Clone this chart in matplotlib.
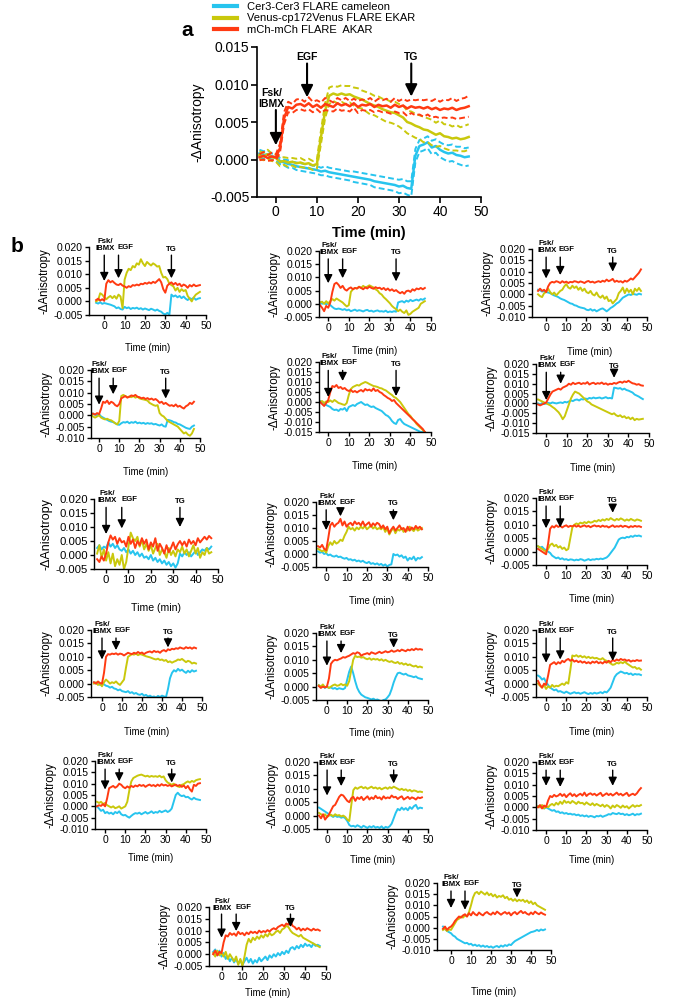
import numpy as np
import matplotlib
matplotlib.use("Agg")
import matplotlib.pyplot as plt
from matplotlib.lines import Line2D

plt.rcParams["font.family"] = ["Liberation Sans", "DejaVu Sans"]
plt.rcParams["axes.unicode_minus"] = False

CAM = "#27C4EE"
EKAR = "#C9C80C"
AKAR = "#FF3A12"
labels = ["Cer3-Cer3 FLARE cameleon", "Venus-cp172Venus FLARE EKAR", "mCh-mCh FLARE  AKAR"]

# sample times (min); all anisotropy values below are in units of 1e-3
time_min = list(range(-4, 48))

# ---- panel a: mean and sem
a_cam = [0.8, 0.6, 0.7, 0.4, 0.3, -0.2, -0.4, -0.6, -0.7, -0.9,
         -1.0, -1.1, -1.2, -1.3, -1.4, -1.6, -1.5, -1.7, -1.8, -1.9,
         -2.0, -2.1, -2.2, -2.3, -2.4, -2.5, -2.6, -2.7, -2.9, -3.0,
         -3.1, -3.2, -3.3, -3.4, -3.6, -3.5, -3.8, -3.9, 0.5, 1.8,
         2.0, 2.3, 1.6, 1.8, 1.3, 1.0, 0.8, 0.9, 0.6, 0.5,
         0.3, 0.4]
a_cam_sem = [0.5, 0.5, 0.5, 0.4, 0.4, 0.4, 0.4, 0.5, 0.4, 0.5,
             0.5, 0.5, 0.5, 0.5, 0.5, 0.5, 0.6, 0.6, 0.6, 0.6,
             0.6, 0.6, 0.6, 0.7, 0.7, 0.7, 0.7, 0.7, 0.8, 0.8,
             0.8, 0.8, 0.8, 0.8, 0.9, 0.9, 0.9, 1.0, 0.9, 0.8,
             0.8, 0.8, 0.9, 0.9, 1.0, 1.0, 1.1, 1.1, 1.1, 1.2,
             1.2, 1.2]
a_ekar = [0.6, 0.4, 0.7, 0.3, 0.2, -0.3, -0.2, -0.4, -0.3, -0.5,
          -0.4, -0.6, -0.5, -0.8, -0.6, 3.0, 6.5, 8.5, 8.8, 8.6,
          8.8, 8.6, 8.7, 8.4, 8.2, 8.0, 7.7, 7.4, 7.2, 7.0,
          6.7, 6.5, 6.3, 6.2, 5.9, 5.6, 5.0, 4.8, 4.5, 4.3,
          4.0, 3.9, 3.6, 3.3, 3.5, 3.1, 3.0, 2.8, 2.9, 2.7,
          2.8, 3.0]
a_ekar_sem = [0.5, 0.5, 0.6, 0.5, 0.5, 0.6, 0.5, 0.6, 0.5, 0.6,
              0.6, 0.5, 0.6, 0.6, 0.6, 0.9, 1.0, 1.1, 1.0, 1.1,
              1.1, 1.2, 1.1, 1.2, 1.3, 1.2, 1.3, 1.4, 1.3, 1.4,
              1.4, 1.5, 1.4, 1.5, 1.5, 1.6, 1.5, 1.6, 1.6, 1.6,
              1.7, 1.6, 1.7, 1.6, 1.7, 1.6, 1.7, 1.6, 1.7, 1.6,
              1.7, 1.7]
a_akar = [0.3, 0.5, 0.2, 0.4, 0.3, 1.5, 5.5, 7.0, 6.8, 7.3,
          7.4, 7.1, 7.5, 7.0, 7.3, 6.9, 7.4, 7.2, 7.0, 7.5,
          7.2, 7.4, 7.1, 7.5, 7.0, 7.3, 7.2, 7.4, 7.0, 7.3,
          7.1, 7.2, 6.9, 7.3, 7.0, 7.2, 6.8, 7.1, 6.9, 7.0,
          6.8, 7.0, 6.7, 6.9, 6.6, 6.8, 6.7, 6.9, 6.6, 6.8,
          6.9, 7.1]
a_akar_sem = [0.4, 0.5, 0.4, 0.5, 0.4, 0.6, 0.8, 0.7, 0.6, 0.7,
              0.7, 0.6, 0.8, 0.7, 0.6, 0.7, 0.8, 0.7, 0.6, 0.7,
              0.7, 0.8, 0.7, 0.6, 0.8, 0.7, 0.7, 0.8, 0.7, 0.8,
              0.8, 0.9, 0.8, 0.9, 0.8, 0.9, 1.0, 0.9, 1.0, 1.0,
              1.1, 1.0, 1.1, 1.2, 1.1, 1.2, 1.2, 1.3, 1.2, 1.3,
              1.3, 1.4]

# ---- panel b: single cells
p1_cam = [-0.5, -0.8, -0.3, -0.9, -0.6, -0.8, -1.0, -1.2, -1.5, -1.8,
          -2.5, -2.2, -2.8, -3.0, -2.0, -2.5, -2.2, -2.8, -2.4, -2.6,
          -2.3, -2.8, -2.5, -3.0, -2.6, -2.9, -3.2, -2.7, -3.0, -3.4,
          -3.0, -3.5, -3.8, -4.5, -4.8, -4.2, -5.0, 2.5, 1.8, 2.2,
          1.5, 2.0, 1.2, 1.8, 1.0, 0.5, 1.2, 0.8, 1.4, 0.6,
          1.0, 1.2]
p1_ekar = [0.0, 0.5, 3.0, 2.5, 1.5, 0.8, 1.5, 2.0, 1.2, 2.0,
           1.0, 2.5, 1.8, -2.5, 8.0, 10.5, 12.0, 11.5, 13.0, 12.5,
           14.0, 13.5, 15.5, 14.0, 13.0, 14.5, 13.8, 13.2, 14.0, 13.5,
           12.8, 13.0, 10.5, 8.8, 9.0, 8.2, 6.5, 6.0, 5.5, 4.0,
           5.0, 3.5, 4.5, 3.8, 4.2, 2.0, 1.0, 0.0, 1.5, 2.5,
           3.0, 3.5]
p1_akar = [0.5, 1.0, 0.3, 0.8, 0.2, 6.5, 7.8, 7.0, 7.5, 6.8,
           6.2, 6.0, 6.5, 5.8, 5.5, 5.0, 5.6, 5.3, 6.0, 5.8,
           6.2, 5.9, 6.5, 6.3, 6.8, 6.5, 7.0, 6.6, 7.2, 6.8,
           7.5, 8.2, 7.0, 4.5, 3.2, 5.8, 6.5, 7.0, 6.2, 6.8,
           6.0, 6.5, 5.5, 6.2, 5.8, 5.0, 6.0, 5.5, 6.2, 5.6,
           5.8, 6.0]

p2_cam = [0.5, 0.0, 0.3, -0.2, 0.2, -0.5, -1.2, -1.8, -2.0, -1.8,
          -2.0, -2.3, -2.0, -2.5, -2.2, -2.8, -2.5, -2.2, -2.7, -2.4,
          -2.6, -2.9, -2.5, -2.3, -2.8, -2.6, -3.0, -2.7, -2.5, -2.9,
          -2.8, -3.0, -2.6, -3.2, -2.9, -3.1, -2.8, -3.0, 0.5, 0.8,
          1.0, 0.5, 1.2, 0.8, 1.5, 1.0, 1.3, 1.6, 1.2, 1.8,
          1.5, 2.0]
p2_ekar = [0.5, 0.8, 0.0, 1.0, 0.2, 1.0, 1.8, 1.2, 2.0, 1.5,
           1.0, 0.5, -0.3, -1.0, -0.5, 4.5, 5.5, 6.0, 5.8, 6.5,
           6.0, 6.8, 6.2, 6.5, 7.0, 6.6, 6.2, 5.5, 5.0, 4.0,
           3.5, 2.5, 1.8, 1.0, 0.2, -0.8, -1.5, -2.0, -2.8, -2.2,
           -3.0, -3.5, -2.5, -4.2, -3.8, -3.0, -2.5, -2.0, -1.5, 0.0,
           0.5, 1.0]
p2_akar = [-0.5, -1.5, -2.8, -0.8, -1.5, 0.5, 4.5, 7.5, 8.0, 7.2,
           6.0, 6.8, 5.5, 5.0, 5.8, 6.2, 5.5, 6.0, 5.8, 6.4,
           6.0, 5.5, 6.2, 5.8, 6.5, 6.0, 5.7, 6.3, 5.9, 6.1,
           5.5, 6.0, 5.2, 5.8, 5.0, 5.5, 4.8, 5.2, 4.5, 4.0,
           4.5, 3.8, 4.8, 5.0, 4.5, 5.5, 5.0, 5.8, 5.5, 6.0,
           5.5, 6.0]

p3_cam = [2.0, 1.8, 1.2, 1.5, 1.0, 0.8, 0.5, 0.0, -0.5, -0.8,
          -1.2, -1.8, -2.2, -2.5, -3.0, -3.5, -4.0, -4.2, -4.8, -5.0,
          -5.5, -5.8, -6.0, -6.2, -6.8, -7.0, -6.5, -7.2, -6.8, -7.5,
          -7.0, -6.5, -6.2, -6.8, -7.5, -6.8, -6.0, -5.5, -4.8, -4.0,
          -3.5, -2.5, -1.5, -1.0, -0.5, 0.0, -0.3, 0.2, 0.0, -0.2,
          0.3, 0.0]
p3_ekar = [0.0, -0.8, -1.2, 0.5, 1.0, 2.5, 1.0, 0.0, 0.8, -0.5,
           0.5, 1.5, 2.0, 3.5, 4.5, 3.0, 2.5, 3.8, 2.8, 3.5,
           2.0, 3.0, 1.5, 2.5, 1.0, 0.5, 1.5, 0.0, -0.5, 0.8,
           -0.8, -1.5, -0.5, -2.0, -1.0, -3.0, -2.5, -4.0, -3.0, -2.0,
           0.5, 1.5, 3.0, 0.5, 2.5, 1.0, 2.0, 0.0, 2.5, 1.5,
           2.8, 1.5]
p3_akar = [1.5, 2.5, 1.5, 2.0, 1.0, 3.5, 5.0, 5.5, 5.2, 5.8,
           5.5, 5.0, 5.8, 5.2, 5.6, 5.0, 5.5, 5.3, 5.8, 5.6,
           5.2, 5.7, 5.4, 5.0, 5.6, 5.9, 5.3, 5.6, 5.1, 5.5,
           5.8, 5.4, 6.0, 5.6, 6.5, 5.8, 6.2, 6.8, 5.5, 6.0,
           5.5, 5.8, 5.2, 6.0, 5.6, 6.2, 7.0, 6.5, 7.5, 8.5,
           9.5, 11.0]

p4_cam = [0.5, 0.8, 0.3, 0.0, 0.5, -0.5, -1.0, -1.5, -2.0, -2.5,
          -2.8, -3.0, -3.5, -4.0, -4.2, -3.5, -3.0, -3.2, -2.8, -3.5,
          -3.0, -3.3, -2.8, -3.5, -3.2, -3.6, -3.3, -3.8, -3.4, -3.7,
          -3.5, -4.0, -3.8, -4.2, -4.5, -4.0, -4.8, -5.0, -2.0, -2.2,
          -2.5, -3.0, -3.2, -3.8, -4.0, -4.5, -5.0, -5.5, -5.8, -6.0,
          -5.0, -4.5]
p4_ekar = [0.5, -0.5, -1.0, -0.5, 0.0, -1.0, -1.5, -1.8, -1.5, -2.0,
           -2.2, -2.8, -3.5, -4.0, -2.5, 8.5, 9.0, 8.5, 8.0, 8.3,
           8.0, 8.5, 7.8, 8.2, 7.5, 7.2, 7.0, 6.8, 6.5, 5.5,
           5.0, 4.5, 4.2, 4.5, 1.0, 0.0, -0.5, -1.5, -2.5, -3.0,
           -3.5, -4.0, -4.5, -5.0, -6.0, -7.0, -8.0, -7.5, -8.5, -9.0,
           -8.0, -6.0]
p4_akar = [0.5, 0.8, 0.3, 1.0, 0.5, 3.0, 6.0, 5.5, 6.5, 5.0,
           6.0, 5.5, 4.5, 4.0, 5.0, 7.5, 8.0, 8.5, 7.8, 8.2,
           8.8, 8.5, 9.0, 8.2, 8.0, 7.5, 7.8, 7.2, 7.6, 7.0,
           7.4, 6.8, 7.2, 6.5, 5.5, 6.0, 5.0, 5.5, 4.8, 4.2,
           4.5, 4.0, 4.8, 3.8, 4.2, 3.5, 3.0, 4.0, 4.5, 5.5,
           5.0, 6.0]

p5_cam = [0.5, 0.0, -0.8, -1.5, -2.0, -2.5, -3.5, -4.0, -3.8, -4.5,
          -3.5, -3.8, -3.0, -4.5, -2.5, -2.0, -1.5, -2.0, -1.0, -0.5,
          0.0, -0.8, -1.5, -1.2, -2.0, -2.5, -2.2, -3.0, -3.5, -4.0,
          -4.5, -5.5, -6.5, -7.0, -8.0, -9.5, -10.5, -11.0, -9.0, -8.5,
          -10.0, -11.0, -11.5, -12.0, -12.5, -13.0, -13.5, -14.0, -14.5, -15.0,
          -15.0, -15.0]
p5_ekar = [0.0, 0.5, -0.5, 0.3, 0.0, 0.8, 0.0, 1.0, 0.3, -0.5,
           -0.8, -1.2, -1.5, -0.5, 3.5, 6.5, 7.5, 8.0, 8.5, 8.2,
           9.0, 9.5, 10.0, 9.6, 9.0, 8.5, 8.0, 7.8, 7.5, 7.0,
           6.8, 6.2, 5.8, 5.0, 4.2, 3.5, 2.5, 2.0, 1.0, 0.0,
           -1.5, -3.0, -4.5, -6.0, -7.0, -8.5, -9.5, -11.0, -12.0, -13.0,
           -14.0, -15.0]
p5_akar = [0.0, -1.0, -2.0, -0.5, 1.0, 5.0, 8.0, 7.5, 8.5, 7.0,
           7.5, 6.5, 7.0, 6.0, 5.5, 6.0, 5.0, 5.5, 4.8, 5.5,
           6.0, 5.2, 6.5, 5.8, 6.2, 5.5, 6.8, 5.5, 6.0, 5.0,
           4.5, 3.5, 2.8, 2.0, 1.5, 0.5, 1.0, -0.5, -1.5, -2.5,
           -3.5, -4.5, -5.5, -6.5, -7.5, -8.5, -9.5, -10.5, -11.5, -12.5,
           -13.5, -15.0]

p6_cam = [0.0, -0.5, 0.2, -0.3, 0.0, 0.3, 0.0, 0.5, 0.2, 0.0,
          0.3, 0.5, 0.2, 0.8, 0.5, 1.0, 1.5, 1.2, 1.8, 2.0,
          1.5, 2.2, 2.0, 2.5, 2.2, 2.8, 2.5, 3.0, 2.6, 2.8,
          3.0, 2.5, 2.8, 3.2, 2.6, 2.8, 2.5, 8.0, 7.8, 7.5,
          7.8, 7.0, 7.5, 6.8, 6.5, 6.0, 5.5, 4.5, 4.0, 3.5,
          2.8, 2.2]
p6_ekar = [2.0, 1.5, 1.0, 0.5, 0.0, -0.5, -1.0, -1.8, -2.5, -3.5,
           -4.5, -6.0, -8.0, -6.5, -3.5, -0.5, 2.5, 4.5, 6.0, 5.5,
           5.0, 4.0, 3.0, 2.0, 1.0, 0.5, -0.5, -1.0, -1.5, -2.0,
           -2.5, -3.0, -3.5, -4.0, -4.5, -5.0, -5.5, -5.0, -6.0, -6.5,
           -6.0, -7.0, -6.5, -7.5, -7.0, -8.0, -7.2, -8.5, -7.8, -8.2,
           -8.0, -7.8]
p6_akar = [-0.5, -1.0, -0.5, 0.0, 0.5, 2.5, 4.5, 6.0, 6.5, 7.0,
           7.5, 7.0, 8.0, 8.5, 9.0, 10.0, 9.5, 10.5, 9.8, 10.2,
           10.5, 9.8, 10.3, 10.0, 10.8, 9.6, 10.2, 10.5, 9.8, 10.3,
           10.0, 10.6, 9.8, 10.2, 9.5, 10.0, 9.8, 10.4, 10.0, 10.6,
           11.0, 10.5, 11.2, 10.8, 11.5, 10.8, 10.2, 10.0, 9.5, 9.8,
           9.2, 9.0]

p7_cam = [2.5, 3.5, 2.0, 3.0, 2.5, 4.5, 3.0, 4.0, 2.5, 3.5,
          2.0, 1.5, 2.5, 1.0, 2.0, 0.5, 1.5, 0.0, 1.0, -0.5,
          0.5, -1.0, -0.5, -1.5, 0.0, -2.0, -1.0, -2.5, -1.5, -3.0,
          -2.0, -3.5, -2.5, -4.0, -3.0, -4.5, -3.0, 0.5, -0.5, 1.0,
          0.0, 1.0, -0.5, 0.5, 1.5, 0.0, 1.0, 2.0, 1.5, 2.5,
          2.0, 3.0]
p7_ekar = [0.5, 3.5, -1.0, 2.0, -2.0, 1.0, -3.0, 0.5, -4.0, -1.5,
           -3.5, 0.0, -5.0, -2.5, 3.0, 8.0, 6.0, 5.0, 6.5, 3.0,
           5.5, 2.0, 4.0, 1.5, 3.5, 0.5, 2.5, 4.0, 0.0, 2.0,
           1.0, -1.0, 2.5, 0.0, 1.5, -0.5, 2.0, 1.0, 3.0, 0.5,
           2.0, -0.5, 1.5, 3.5, 0.5, 2.5, -1.0, 1.0, 0.0, 2.5,
           0.5, 1.0]
p7_akar = [-1.5, -2.5, -0.5, -2.0, 0.5, 4.5, 7.0, 5.5, 6.5, 4.0,
           6.0, 4.5, 5.0, 3.0, 6.5, 4.0, 5.5, 2.5, 5.0, 3.5,
           6.0, 4.0, 5.5, 2.0, 4.5, 3.0, 6.0, 1.5, 4.0, 2.5,
           0.5, 3.5, 1.0, 2.5, 4.5, 2.0, 3.8, 5.0, 3.5, 4.8,
           3.0, 5.5, 4.0, 5.0, 3.5, 6.0, 4.5, 5.5, 6.5, 5.5,
           6.8, 6.0]

p8_cam = [1.0, 0.5, 0.8, 0.0, 0.3, -0.5, -0.2, -0.8, -1.0, -0.6,
          -1.2, -1.0, -1.5, -1.8, -1.5, -2.2, -2.0, -2.5, -2.2, -2.8,
          -2.5, -3.0, -2.6, -3.2, -3.5, -3.0, -3.8, -3.5, -4.0, -3.6,
          -4.2, -3.8, -4.5, -4.0, -4.8, -4.2, -4.0, 0.0, -0.5, -0.2,
          -1.0, -0.5, -1.5, -1.0, -2.5, -1.5, -2.0, -1.0, -2.5, -1.5,
          -1.8, -1.2]
p8_ekar = [2.0, 1.5, 1.0, 1.5, 0.5, 3.0, 4.5, 3.5, 5.0, 4.0,
           4.5, 5.5, 5.0, 7.0, 8.5, 10.5, 9.5, 10.0, 9.0, 10.2,
           9.5, 10.5, 9.8, 10.8, 9.5, 10.2, 11.0, 9.8, 10.5, 9.5,
           10.0, 9.5, 10.5, 8.5, 9.8, 7.5, 9.0, 10.0, 8.0, 9.5,
           9.0, 10.0, 8.5, 9.5, 9.0, 10.5, 9.5, 8.8, 10.0, 9.0,
           9.5, 10.0]
p8_akar = [3.0, 2.5, 3.5, 2.0, 1.5, 6.0, 11.0, 12.0, 10.5, 11.5,
           12.0, 13.5, 11.0, 12.5, 10.5, 11.5, 12.0, 11.0, 12.5, 11.5,
           12.0, 11.0, 12.5, 10.8, 11.5, 12.2, 10.5, 11.8, 11.0, 12.0,
           11.5, 10.0, 11.0, 9.5, 10.5, 8.0, 9.5, 10.5, 9.0, 10.0,
           11.0, 9.5, 10.0, 8.5, 10.5, 9.0, 10.2, 9.5, 10.8, 9.8,
           10.5, 9.5]

p9_cam = [2.0, 1.5, 1.8, 1.0, 0.5, 0.0, -0.5, -1.5, -2.0, -2.5,
          -2.2, -2.8, -2.5, -3.0, -2.8, -3.2, -2.9, -3.0, -3.3, -3.0,
          -3.2, -2.8, -3.0, -3.4, -3.1, -2.8, -3.2, -2.9, -3.0, -2.7,
          -2.9, -2.6, -2.8, -2.5, -2.2, -1.5, -0.5, 0.5, 1.5, 3.0,
          4.5, 5.0, 5.2, 5.0, 5.5, 5.3, 5.8, 5.5, 6.0, 5.8,
          6.0, 5.7]
p9_ekar = [2.0, 1.5, 1.0, 0.5, 0.0, 1.0, 2.5, 3.0, 2.0, 2.5,
           1.5, 2.0, 1.0, 1.5, 0.5, 1.0, 5.0, 9.0, 10.0, 10.5,
           10.2, 10.8, 10.5, 11.0, 10.6, 11.2, 10.8, 11.0, 11.5, 11.2,
           11.8, 11.4, 12.0, 11.6, 12.2, 11.8, 12.5, 12.0, 11.6, 12.2,
           11.8, 12.4, 12.0, 11.5, 12.0, 11.6, 12.2, 11.8, 11.5, 12.0,
           11.8, 11.5]
p9_akar = [1.0, 0.5, 0.0, -0.5, -1.0, 3.0, 8.5, 9.5, 9.0, 9.8,
           9.2, 9.6, 9.0, 9.5, 9.8, 9.2, 9.6, 9.4, 9.8, 9.3,
           9.7, 9.2, 9.5, 9.8, 9.3, 9.6, 9.1, 9.5, 9.8, 9.4,
           9.6, 9.2, 9.7, 9.3, 9.5, 9.0, 9.4, 9.8, 9.2, 9.5,
           9.3, 9.7, 9.2, 9.6, 9.4, 9.0, 9.5, 9.2, 9.6, 9.3,
           9.5, 9.2]

p10_cam = [0.5, 0.0, 0.3, -0.5, 0.0, -0.3, -0.8, -1.0, -1.5, -1.2,
           -1.8, -2.0, -2.5, -2.2, -2.8, -3.0, -3.2, -2.8, -3.5, -3.2,
           -3.8, -3.5, -4.0, -4.2, -3.8, -4.5, -4.2, -4.8, -4.5, -5.0,
           -4.8, -5.2, -4.6, -5.0, -4.5, -4.8, -5.0, -2.0, 2.0, 4.0,
           5.0, 4.5, 5.5, 4.8, 5.2, 4.5, 4.0, 4.8, 4.2, 5.0,
           4.5, 4.8]
p10_ekar = [0.0, 0.5, -0.5, 0.0, -1.0, 0.5, 1.5, 0.8, 0.0, 0.5,
            0.2, 0.8, 0.0, -0.5, 0.5, 1.5, 6.0, 10.0, 10.5, 11.0,
            10.8, 11.2, 10.6, 11.0, 10.8, 10.5, 10.2, 10.0, 9.8, 9.5,
            9.2, 9.0, 9.3, 8.8, 9.0, 8.5, 8.8, 8.0, 8.3, 7.8,
            8.2, 8.5, 9.0, 8.8, 9.2, 8.6, 8.0, 8.5, 8.2, 7.5,
            7.8, 7.5]
p10_akar = [0.5, 0.0, 0.8, 0.2, 0.0, 4.0, 10.0, 11.0, 10.8, 11.2,
            11.0, 11.3, 10.8, 11.2, 11.0, 10.5, 11.0, 11.5, 11.2, 11.0,
            11.5, 11.2, 11.8, 11.3, 11.6, 11.0, 11.5, 11.8, 12.0, 11.6,
            12.2, 11.8, 12.0, 11.5, 12.2, 12.5, 12.0, 12.8, 12.5, 13.0,
            12.8, 13.2, 13.0, 13.5, 13.2, 13.0, 13.6, 13.2, 13.5, 13.0,
            13.5, 13.2]

p11_cam = [0.5, 0.0, 0.3, -0.5, 0.0, -0.5, -0.3, -0.8, -0.5, -1.0,
           -0.6, -0.8, -1.0, -0.5, 2.5, 5.5, 7.5, 5.0, 2.0, -0.5,
           -2.0, -3.0, -3.5, -4.0, -4.2, -4.5, -4.8, -4.5, -5.0, -4.8,
           -5.2, -5.5, -5.0, -4.8, -4.0, -3.0, -1.0, 1.5, 3.5, 5.0,
           5.2, 4.8, 4.5, 4.8, 4.2, 4.0, 3.8, 3.5, 3.8, 3.2,
           3.0, 2.8]
p11_ekar = [0.5, 0.0, 0.8, -0.2, 0.0, -0.5, 0.0, 0.5, 0.8, 0.3,
            0.5, 1.0, 0.5, 0.8, 0.3, 2.0, 6.0, 10.0, 11.5, 11.0,
            11.2, 10.8, 11.0, 10.5, 10.2, 10.6, 10.0, 10.4, 10.1, 10.3,
            9.8, 10.2, 9.6, 10.0, 9.5, 9.2, 9.5, 9.0, 8.8, 9.2,
            8.5, 8.8, 8.2, 8.6, 8.0, 8.3, 7.8, 7.5, 7.8, 7.2,
            7.5, 7.2]
p11_akar = [0.2, -0.5, 0.0, -0.3, 0.0, 3.0, 8.5, 9.5, 10.0, 9.8,
            10.2, 10.5, 11.0, 10.8, 11.2, 11.5, 12.0, 12.5, 12.2, 12.8,
            12.5, 11.5, 12.0, 12.2, 12.5, 12.0, 12.8, 12.5, 12.2, 12.6,
            13.0, 12.5, 12.8, 13.2, 12.8, 13.0, 13.5, 13.0, 13.2, 13.6,
            13.2, 13.8, 13.5, 13.2, 13.8, 13.5, 14.0, 13.6, 14.2, 13.8,
            14.0, 13.8]

p12_cam = [3.0, 2.5, 1.5, 2.0, 0.5, -0.5, -1.5, -2.0, -2.5, -2.2,
           -3.0, -2.8, -3.2, -3.5, -3.0, -3.4, -3.8, -3.5, -3.2, -3.6,
           -3.4, -3.8, -3.5, -3.2, -3.6, -3.9, -3.5, -3.8, -3.4, -3.7,
           -3.5, -3.2, -3.6, -3.0, -3.3, -2.5, -1.5, 0.5, 2.5, 3.5,
           4.0, 4.5, 4.2, 3.8, 4.0, 3.5, 3.8, 3.2, 3.6, 3.4,
           3.5, 3.2]
p12_ekar = [0.0, -0.8, -1.5, -0.5, -2.0, -1.0, -1.5, -0.5, -1.2, -0.8,
            -1.0, -0.5, 0.0, -0.5, 0.5, 0.0, 5.0, 10.5, 10.2, 10.6,
            10.0, 10.4, 9.8, 10.2, 9.6, 10.0, 9.5, 9.8, 9.4, 9.6,
            9.2, 9.0, 9.5, 8.8, 8.5, 8.0, 7.5, 7.0, 7.2, 7.8,
            7.5, 8.0, 7.6, 8.2, 7.5, 7.0, 6.5, 6.0, 6.2, 5.5,
            5.8, 5.2]
p12_akar = [1.0, -0.5, -1.5, 0.0, -0.5, 3.0, 7.0, 7.5, 8.0, 7.2,
            8.0, 7.5, 8.5, 8.0, 8.8, 9.2, 8.5, 9.0, 8.2, 8.6,
            8.0, 8.4, 7.8, 8.2, 7.6, 8.0, 7.5, 8.2, 7.8, 8.3,
            7.6, 8.0, 7.5, 8.2, 7.8, 8.5, 8.0, 8.8, 8.4, 9.0,
            8.6, 9.2, 8.8, 9.0, 8.5, 8.8, 8.2, 8.6, 8.4, 8.8,
            8.5, 8.6]

p13_cam = [0.0, -1.0, -2.0, -1.5, -3.0, -2.5, -3.2, -2.8, -3.5, -2.5,
           -3.0, -2.2, -3.5, -4.0, -3.8, -4.5, -5.0, -4.2, -3.5, -3.0,
           -3.2, -2.8, -3.5, -3.0, -2.5, -3.2, -2.8, -2.2, -3.0, -2.5,
           -2.8, -2.0, -2.6, -2.2, -1.8, -2.5, -2.0, -1.0, 2.0, 5.0,
           6.0, 5.0, 4.5, 4.8, 4.0, 4.2, 3.5, 3.0, 3.8, 3.2,
           3.0, 2.8]
p13_ekar = [2.0, 1.5, 2.0, 1.0, 1.5, 0.5, 0.0, -0.5, 0.0, -0.8,
            -0.5, 0.0, -1.0, -0.5, 0.0, 2.0, 7.0, 11.0, 12.5, 13.0,
            13.5, 13.8, 14.0, 13.6, 13.2, 13.5, 13.0, 13.4, 13.1, 13.3,
            13.0, 13.5, 12.8, 13.2, 11.5, 10.5, 10.0, 9.5, 10.0, 9.2,
            8.8, 8.5, 9.5, 9.8, 10.5, 11.0, 10.5, 11.2, 10.8, 11.5,
            11.8, 12.0]
p13_akar = [0.0, 0.5, 0.2, 1.0, 0.0, 3.5, 8.0, 8.5, 9.0, 8.2,
            8.8, 10.0, 9.5, 8.5, 8.0, 8.8, 8.2, 9.0, 8.5, 9.2,
            8.8, 9.5, 9.0, 9.4, 8.6, 9.2, 9.6, 9.0, 9.4, 8.8,
            9.6, 9.0, 9.8, 9.2, 9.5, 9.0, 9.4, 8.8, 9.2, 9.6,
            9.0, 9.4, 8.6, 9.2, 8.0, 9.0, 7.5, 6.5, 9.5, 9.0,
            10.0, 10.2]

p14_cam = [3.0, 2.5, 2.0, 1.5, 1.0, 0.5, 0.0, -0.5, 0.0, -0.5,
           -0.3, -0.8, -0.5, -1.0, -2.0, -3.5, -4.0, -3.8, -4.2, -3.6,
           -4.0, -4.5, -3.8, -4.2, -4.6, -4.0, -4.4, -3.9, -4.5, -4.2,
           -4.6, -4.0, -4.8, -4.2, -4.5, -4.0, -3.0, -1.0, 1.0, 2.5,
           2.0, 3.0, 2.2, 2.8, 2.0, 3.2, 2.5, 3.5, 4.0, 2.5,
           3.0, 2.8]
p14_ekar = [1.0, 0.5, 0.0, 0.5, -0.5, 0.0, 0.3, -0.2, 0.5, 0.0,
            0.2, -0.3, 0.0, -0.5, -1.5, -2.0, 4.0, 9.5, 10.5, 10.0,
            10.5, 10.8, 10.2, 10.6, 10.0, 10.4, 10.8, 10.2, 10.5, 10.0,
            10.4, 9.8, 10.2, 10.5, 10.0, 10.6, 10.2, 10.8, 10.4, 10.0,
            9.6, 10.0, 9.5, 9.8, 9.2, 9.6, 9.0, 9.4, 9.2, 8.8,
            9.0, 8.8]
p14_akar = [0.0, -1.0, 0.5, -1.5, -0.5, 0.5, 2.0, 3.5, 4.0, 5.5,
            7.0, 7.8, 7.5, 6.5, 5.5, 5.0, 6.5, 7.0, 5.5, 6.8,
            6.2, 7.0, 5.8, 6.5, 7.2, 6.0, 6.8, 6.2, 7.4, 6.5,
            6.8, 6.0, 7.2, 6.4, 6.8, 6.5, 7.5, 6.8, 7.0, 6.2,
            6.8, 7.2, 6.0, 6.5, 7.0, 6.2, 6.8, 6.5, 6.0, 6.8,
            6.5, 6.8]

p15_cam = [0.5, 0.0, 0.8, -0.5, 0.0, -0.5, -1.0, -1.5, -1.2, -2.0,
           -1.8, -2.5, -2.2, -2.8, -2.5, -3.0, -2.8, -3.2, -3.0, -3.5,
           -3.2, -3.8, -3.5, -4.0, -3.6, -4.2, -3.8, -4.0, -4.4, -3.8,
           -4.0, -3.6, -4.2, -3.8, -3.5, -3.0, -3.2, -2.5, -2.8, -3.0,
           -2.5, -3.0, -2.8, -3.4, -3.0, -3.5, -3.2, -2.8, -3.5, -3.0,
           -3.2, -2.8]
p15_ekar = [0.5, 0.0, 1.0, -0.5, 0.5, 0.0, 1.0, 1.5, 0.8, 2.0,
            1.2, 2.5, 1.5, 3.0, 2.0, 2.5, 1.8, 2.8, 2.2, 1.5,
            2.5, 1.8, 2.0, 1.2, 2.2, 1.5, 1.0, 1.8, 0.8, 1.5,
            1.0, 0.5, 1.2, 0.2, 1.0, 0.5, -0.5, 0.8, 0.0, 1.0,
            0.5, -0.2, 0.8, 0.0, 0.5, -0.5, 0.3, 1.0, 0.2, 0.8,
            0.5, 1.0]
p15_akar = [0.0, 1.0, -0.5, 0.8, 0.2, 3.0, 5.0, 4.5, 5.5, 4.8,
            5.2, 6.0, 5.0, 5.8, 4.5, 5.5, 6.2, 5.0, 5.8, 4.8,
            5.5, 6.0, 5.2, 6.5, 5.0, 5.8, 6.2, 5.5, 6.0, 5.2,
            5.8, 6.4, 5.0, 5.6, 6.2, 5.4, 6.0, 5.2, 5.8, 6.5,
            5.5, 6.0, 5.2, 5.8, 6.4, 5.0, 5.6, 6.0, 5.4, 6.2,
            7.5, 8.5]

p16_cam = [1.0, 2.0, -0.5, 1.5, -1.0, 0.5, -2.0, -1.0, -3.0, -1.5,
           -3.5, -2.0, -4.0, -2.5, -4.5, -3.0, -1.5, -3.5, -2.0, -4.0,
           -2.5, -3.5, -1.5, -3.0, -2.0, -1.0, -2.5, -0.5, -1.5, 0.0,
           -1.0, 0.5, -0.5, 1.0, 0.0, 1.5, 0.5, 2.5, 3.0, 2.0,
           3.5, 2.5, 4.0, 3.0, 4.5, 3.5, 4.0, 3.0, 4.5, 3.5,
           4.0, 3.5]
p16_ekar = [0.5, -1.0, 1.5, -0.5, 0.5, -1.0, 1.0, -2.0, 0.0, -1.5,
            -3.0, -1.0, -4.5, -2.0, -5.0, -1.0, 4.0, 6.5, 5.0, 7.0,
            6.0, 7.5, 6.5, 8.0, 7.0, 8.5, 7.5, 9.0, 8.0, 8.5,
            9.5, 10.0, 9.0, 10.5, 11.0, 12.0, 11.5, 10.0, 9.0, 8.5,
            8.0, 7.5, 8.2, 7.0, 6.5, 6.0, 5.5, 5.0, 4.5, 4.0,
            3.5, 3.0]
p16_akar = [0.0, 1.5, -0.5, 1.0, 0.5, 5.0, 8.0, 7.5, 9.0, 8.2,
            8.8, 7.8, 9.5, 8.5, 9.0, 8.0, 9.2, 8.5, 9.6, 9.0,
            9.5, 8.8, 10.0, 9.2, 9.8, 9.4, 10.2, 9.6, 10.5, 11.0,
            10.5, 11.5, 12.0, 12.5, 11.8, 13.0, 12.5, 14.0, 12.0, 11.5,
            10.5, 11.2, 10.0, 10.8, 10.2, 11.0, 10.5, 10.0, 10.8, 10.2,
            10.5, 10.0]

p17_cam = [0.5, -0.5, -1.5, -2.0, -2.5, -3.5, -4.0, -5.0, -5.5, -6.0,
           -6.5, -7.0, -6.8, -7.5, -7.2, -8.0, -7.6, -8.2, -7.8, -8.5,
           -8.0, -8.6, -8.2, -8.8, -8.4, -9.0, -8.5, -8.2, -8.8, -8.0,
           -8.5, -7.8, -8.2, -7.5, -7.8, -6.8, -6.0, -5.5, -5.0, -4.5,
           -4.0, -3.5, -3.0, -2.5, -2.0, -1.8, -1.5, -1.0, -1.5, -0.8,
           -1.2, -0.8]
p17_ekar = [-1.0, -0.5, -1.5, -0.8, -1.0, 0.5, 2.0, 3.5, 4.0, 5.0,
            4.5, 5.5, 5.0, 7.0, 10.0, 13.5, 15.5, 16.0, 15.0, 16.2,
            15.5, 14.8, 15.8, 14.5, 15.2, 14.0, 14.8, 13.5, 14.2, 13.8,
            14.5, 13.2, 13.8, 12.5, 13.0, 12.0, 12.8, 11.8, 12.5, 12.0,
            12.5, 11.5, 12.2, 11.0, 11.8, 10.5, 11.2, 10.0, 9.5, 9.0,
            8.5, 8.0]
p17_akar = [-0.5, 0.5, -1.0, 0.0, 0.5, 1.5, 3.0, 4.0, 5.0, 4.5,
            5.5, 6.0, 5.0, 6.5, 5.5, 7.0, 6.0, 5.5, 6.8, 6.0,
            5.5, 6.5, 7.0, 6.2, 5.8, 6.8, 6.0, 7.2, 6.5, 5.8,
            6.5, 7.0, 6.2, 6.8, 5.5, 6.5, 7.0, 6.0, 6.8, 7.5,
            6.5, 7.0, 6.2, 5.8, 6.8, 6.0, 7.2, 6.5, 6.0, 6.8,
            6.2, 5.8]

cells = [
    (p1_cam, p1_ekar, p1_akar), (p2_cam, p2_ekar, p2_akar), (p3_cam, p3_ekar, p3_akar),
    (p4_cam, p4_ekar, p4_akar), (p5_cam, p5_ekar, p5_akar), (p6_cam, p6_ekar, p6_akar),
    (p7_cam, p7_ekar, p7_akar), (p8_cam, p8_ekar, p8_akar), (p9_cam, p9_ekar, p9_akar),
    (p10_cam, p10_ekar, p10_akar), (p11_cam, p11_ekar, p11_akar), (p12_cam, p12_ekar, p12_akar),
    (p13_cam, p13_ekar, p13_akar), (p14_cam, p14_ekar, p14_akar), (p15_cam, p15_ekar, p15_akar),
    (p16_cam, p16_ekar, p16_akar), (p17_cam, p17_ekar, p17_akar),
]
for trio in cells:
    for tr in trio:
        assert len(tr) == len(time_min)

# y range of each cell (x 1e-3)
ylims = [(-5, 20), (-5, 20), (-10, 20),
         (-10, 20), (-15, 20), (-15, 20),
         (-5, 20), (-5, 20), (-5, 20),
         (-5, 20), (-5, 20), (-5, 20),
         (-10, 20), (-5, 20), (-10, 20),
         (-5, 20), (-10, 20)]

# layout: axes box in pixels (left spine, x=50, top, bottom), left x limit,
# and distance (px) from the x axis to the centre of "Time (min)"
boxes = [(89, 206, 247, 315), (319, 431, 251, 317), (532, 647, 249, 317),
         (91, 200, 370, 438), (319, 431, 362, 432), (536, 649, 364, 433),
         (94, 218, 499, 569), (316, 428, 502, 567), (536, 647, 498, 565),
         (91, 202, 630, 697), (316, 428, 633, 700), (536, 647, 630, 697),
         (95, 206, 761, 829), (317, 428, 762, 829), (536, 647, 762, 830),
         (209, 326, 907, 966), (437, 551, 883, 950)]
xmins = [-7.5, -4.5, -7, -4, -4.5, -5, -5.4, -5, -5, -5.5, -5.4, -5, -5, -5, -5, -6, -7]
xlab_dist = [33, 34, 35, 34, 34, 35, 39, 34, 34, 35, 33, 35, 29, 31, 30, 27, 42]
# arrow tip heights (x 1e-3) for Fsk/IBMX, EGF, TG
tips = [(7.5, 8.5, 8.5), (7.8, 9.7, 8.5), (7.0, 8.5, 10.0),
        (4.7, 9.3, 7.4), (2.5, 10.5, 3.0), (1.7, 10.0, 13.0),
        (7.5, 9.5, 10.0), (9.2, 14.5, 13.0), (8.7, 9.0, 14.5),
        (9.0, 12.5, 13.5), (7.8, 12.5, 14.5), (7.8, 9.0, 8.5),
        (7.4, 11.0, 10.5), (7.5, 11.0, 12.0), (9.5, 9.0, 9.5),
        (7.0, 9.8, 11.5), (8.8, 8.0, 13.5)]

W, H = 700, 1001
t = np.array(time_min)


def rect(xl, xr, yt, yb):
    return [xl / W, 1 - yb / H, (xr - xl) / W, (yb - yt) / H]


def style(ax, fs, lw=1.0):
    for s in ("top", "right"):
        ax.spines[s].set_visible(False)
    for s in ("left", "bottom"):
        ax.spines[s].set_linewidth(lw)
    ax.tick_params(direction="out", length=3, width=lw, labelsize=fs, pad=1.5)


fig = plt.figure(figsize=(7, 10.01), dpi=100)

# ---------------- panel a
ax = fig.add_axes(rect(257, 481, 47, 197))
for mean, sem, c in [(a_cam, a_cam_sem, CAM), (a_ekar, a_ekar_sem, EKAR), (a_akar, a_akar_sem, AKAR)]:
    m = np.array(mean) * 1e-3
    s = np.array(sem) * 1e-3
    ax.plot(t, m + s, color=c, lw=1.4, ls=(0, (3, 1.6)))
    ax.plot(t, m - s, color=c, lw=1.4, ls=(0, (3, 1.6)))
    ax.plot(t, m, color=c, lw=1.8)
ax.set_xlim(-4.6, 50)
ax.set_ylim(-0.005, 0.015)
ax.set_xticks(range(0, 51, 10))
ax.set_yticks([-0.005, 0, 0.005, 0.010, 0.015])
ax.set_yticklabels(["%.3f" % v for v in [-0.005, 0, 0.005, 0.010, 0.015]])
style(ax, 10, 1.2)
ax.tick_params(length=4)
ax.set_ylabel("-ΔAnisotropy", fontsize=10, labelpad=4)
ax.set_xlabel("Time (min)", fontsize=10.5, fontweight="bold", labelpad=5)
big = dict(arrowstyle="-|>,head_length=0.6,head_width=0.3", color="k", lw=1.5,
           shrinkA=0, shrinkB=0, mutation_scale=12)
ax.text(-1, 0.0081, "Fsk/\nIBMX", ha="center", va="center", fontsize=7.5,
        fontweight="bold", linespacing=1.1)
ax.annotate("", xy=(0, 0.0019), xytext=(0, 0.0066), arrowprops=big)
ax.text(7.6, 0.0136, "EGF", ha="center", va="center", fontsize=7.5, fontweight="bold")
ax.annotate("", xy=(7.6, 0.0083), xytext=(7.6, 0.0128), arrowprops=big)
ax.text(33, 0.0136, "TG", ha="center", va="center", fontsize=7.5, fontweight="bold")
ax.annotate("", xy=(33, 0.0084), xytext=(33, 0.0128), arrowprops=big)

handles = [Line2D([], [], color=c, lw=3) for c in (CAM, EKAR, AKAR)]
fig.legend(handles, labels, loc="upper left", bbox_to_anchor=(214 / W, 1 - 2 / H),
           frameon=False, fontsize=8, handlelength=2.1, handletextpad=0.9,
           labelspacing=0.13, borderpad=0, borderaxespad=0)
fig.text(187 / W, 1 - 31 / H, "a", fontsize=15, fontweight="bold", ha="center", va="center")
fig.text(17 / W, 1 - 247 / H, "b", fontsize=15, fontweight="bold", ha="center", va="center")

# ---------------- panel b
small = dict(arrowstyle="-|>,head_length=0.5,head_width=0.25", color="k", lw=1.0,
             shrinkA=0, shrinkB=0, mutation_scale=10)
for i, trio in enumerate(cells):
    xl, xr, ytop, ybot = boxes[i]
    ax = fig.add_axes(rect(xl, xr, ytop, ybot))
    for tr, c in zip(trio, (CAM, EKAR, AKAR)):
        ax.plot(t, np.array(tr) * 1e-3, color=c, lw=1.4)
    lo, hi = ylims[i]
    yt = np.arange(lo, hi + 1, 5) * 1e-3
    ax.set_ylim(lo * 1e-3, hi * 1e-3)
    ax.set_yticks(yt)
    ax.set_yticklabels(["%.3f" % v for v in yt])
    ax.set_xlim(xmins[i], 50)
    ax.set_xticks(range(0, 51, 10))
    fs = 8.2 if i == 6 else 7.5
    style(ax, fs)
    ax.set_ylabel("-ΔAnisotropy", fontsize=fs + 0.8, labelpad=2)
    ax.set_xlabel("Time (min)", fontsize=fs - 0.6)
    ax.xaxis.set_label_coords(0.5, -(xlab_dist[i] - 5) / (ybot - ytop))
    tr_x = ax.get_xaxis_transform()
    for x, tip in zip((0, 7, 33), tips[i]):
        ax.annotate("", xy=(x, tip * 1e-3), xycoords="data", xytext=(x, 0.88),
                    textcoords=("data", "axes fraction"), arrowprops=small)
    ax.text(0.3, 1.03, "Fsk/\nIBMX", transform=tr_x, ha="center", va="center",
            fontsize=5.6, fontweight="bold", linespacing=1.05)
    ax.text(10.3, 0.99, "EGF", transform=tr_x, ha="center", va="center",
            fontsize=5.6, fontweight="bold")
    ax.text(33, 0.97, "TG", transform=tr_x, ha="center", va="center",
            fontsize=5.6, fontweight="bold")

fig.savefig("out.png", dpi=100)
